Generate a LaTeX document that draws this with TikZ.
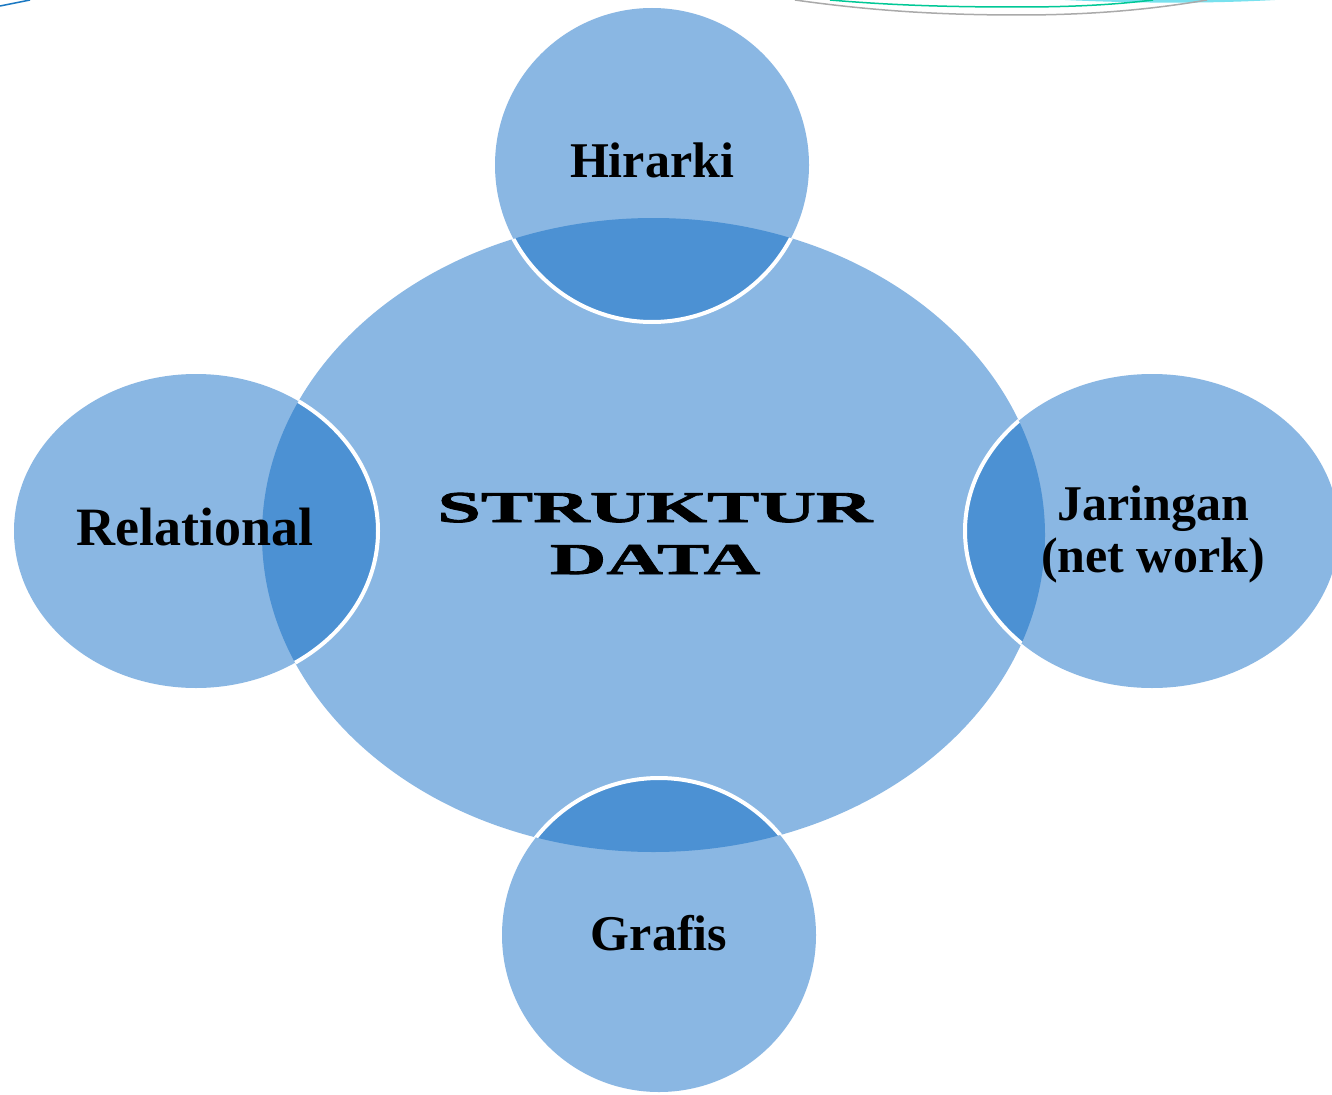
\documentclass[tikz,border=0pt]{standalone}
\usepackage{fontspec}
\setmainfont{Liberation Serif}
\newfontfamily\widefont[FakeStretch=1.78,FakeBold=2]{Liberation Serif Bold}
\definecolor{lightblue}{RGB}{138,183,227}
\definecolor{darkblue}{RGB}{76,145,211}
\definecolor{decoblue}{RGB}{26,120,194}
\definecolor{decogray}{RGB}{170,170,170}
\definecolor{decogreen}{RGB}{0,200,150}
\definecolor{decocyan}{RGB}{120,225,238}
\tikzset{
  lbl/.style={font=\fontsize{50}{52}\selectfont\bfseries, text=black, align=center, inner sep=0pt},
  ctr/.style={font=\fontsize{44}{52}\selectfont\widefont, text=black, align=center, inner sep=0pt},
  rim/.style={draw=white, line width=4pt}
}
\begin{document}
\begin{tikzpicture}[x=1pt,y=-1pt]
\useasboundingbox (0,0) rectangle (1332,1094);
\fill[white] (0,0) rectangle (1332,1094);
% decorations at top
\draw[decoblue, line width=1.5pt] (0,6) -- (30,0);
\fill[decocyan] (1065,0) .. controls (1150,4) and (1220,3) .. (1275,0) -- cycle;
\draw[decogray, line width=1.5pt] (795,0) .. controls (880,12) and (950,15) .. (1020,15) .. controls (1100,15) and (1160,8) .. (1207,0);
\draw[decogreen, line width=1.5pt] (830,0) .. controls (900,6) and (960,7) .. (1020,7) .. controls (1080,7) and (1120,4) .. (1153,0);
% central ellipse
\fill[lightblue] (653.5,535) ellipse [x radius=391.5, y radius=317];
% outer shapes
\foreach \cx/\cy/\rx/\ry in {652/165/157/157, 196/531/182/157, 1152/531/187/157, 659/935/157/157} {
  \fill[lightblue] (\cx,\cy) ellipse [x radius=\rx, y radius=\ry];
  \begin{scope}
    \clip (653.5,535) ellipse [x radius=391.5, y radius=317];
    \fill[darkblue] (\cx,\cy) ellipse [x radius=\rx, y radius=\ry];
    \draw[rim] (\cx,\cy) ellipse [x radius=\rx, y radius=\ry];
  \end{scope}
}
% labels
\node[ctr, anchor=base] (center) at (655,574) {STRUKTUR\\DATA};
\node[lbl, anchor=base] (hir) at (652,178) {Hirarki};
\node[lbl, anchor=base, font=\fontsize{54}{56}\selectfont\bfseries] (rel) at (195,545) {Relational};
\node[lbl, anchor=base] (jar) at (1153,572) {Jaringan\\(net work)};
\node[lbl, anchor=base] (gra) at (659,950) {Grafis};
\end{tikzpicture}
\end{document}
